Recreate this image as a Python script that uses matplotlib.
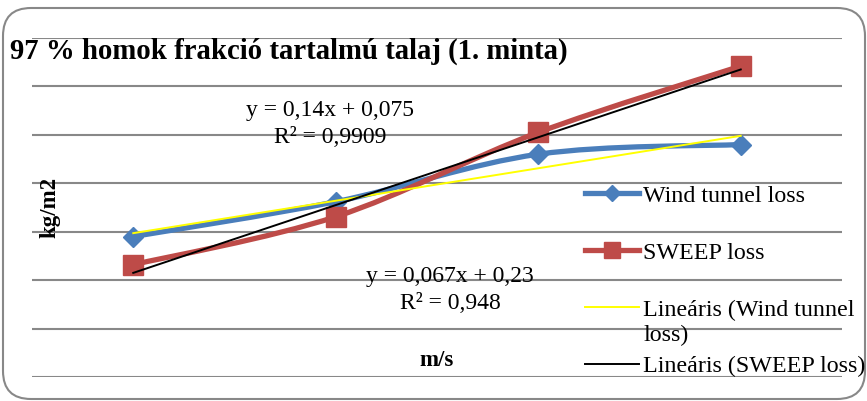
import numpy as np
import matplotlib.pyplot as plt
from matplotlib.path import Path
from matplotlib.patches import PathPatch, FancyBboxPatch
from matplotlib.lines import Line2D

plt.rcParams['font.family'] = ['Liberation Serif', 'DejaVu Serif']

# mérési adatok
categories = [1, 2, 3, 4]
wind_loss = [0.29, 0.362, 0.46, 0.48]
sweep_loss = [0.232, 0.331, 0.505, 0.642]

# lineáris trend: meredekség, tengelymetszet, R²
wind_fit = (0.067, 0.23, 0.948)
sweep_fit = (0.14, 0.075, 0.9909)

title = "97 % homok frakció tartalmú talaj (1. minta)"
labels = ["Wind tunnel loss", "SWEEP loss",
          "Lineáris (Wind tunnel", "Lineáris (SWEEP loss)"]
label_overflow = "loss)"

blue = '#4A7EBB'
red = '#BE4B48'
grid_c = '#888888'


def smooth_path(x, y):
    # simított görbe Bezier-szakaszokkal (Catmull-Rom)
    pts = np.column_stack([x, y]).astype(float)
    n = len(pts)
    verts = [pts[0]]
    codes = [Path.MOVETO]
    for i in range(n - 1):
        p0 = pts[max(i - 1, 0)]
        p1 = pts[i]
        p2 = pts[i + 1]
        p3 = pts[min(i + 2, n - 1)]
        verts += [p1 + (p2 - p0) / 6, p2 - (p3 - p1) / 6, p2]
        codes += [Path.CURVE4] * 3
    return Path(verts, codes)


def fmt(v):
    return ('%g' % v).replace('.', ',')


fig = plt.figure(figsize=(8.67, 4.01), dpi=100)
ax = fig.add_axes([32 / 867, 1 - 377 / 401, 810 / 867, 339 / 401])
ax.set_xlim(0.5, 4.5)
ax.set_ylim(0, 0.7)
ax.set_yticks(np.arange(0, 0.71, 0.1))
ax.set_xticks([])
ax.tick_params(left=False, labelleft=False)
for s in ax.spines.values():
    s.set_visible(False)
ax.grid(axis='y', color=grid_c, lw=1.5)
ax.set_axisbelow(True)

# adatsorok
ax.add_patch(PathPatch(smooth_path(categories, wind_loss), fill=False,
                       ec=blue, lw=3.8, capstyle='round', joinstyle='round'))
ax.plot(categories, wind_loss, ls='none', marker='D', ms=10, color=blue)
ax.add_patch(PathPatch(smooth_path(categories, sweep_loss), fill=False,
                       ec=red, lw=3.8, capstyle='round', joinstyle='round'))
ax.plot(categories, sweep_loss, ls='none', marker='s', ms=15, color=red)

# trendvonalak
xs = np.array([categories[0], categories[-1]], dtype=float)
ax.plot(xs, wind_fit[0] * xs + wind_fit[1], color='#FFFF00', lw=1.4)
ax.plot(xs, sweep_fit[0] * xs + sweep_fit[1], color='black', lw=1.4)

handles = [
    Line2D([], [], color=blue, lw=3.8, marker='D', ms=8),
    Line2D([], [], color=red, lw=3.8, marker='s', ms=12),
    Line2D([], [], color='#FFFF00', lw=1.4),
    Line2D([], [], color='black', lw=1.4),
]
fig.legend(handles, labels, loc='upper left',
           bbox_to_anchor=(585 / 867, 1 - 185 / 401), frameon=False,
           fontsize=17.3, handlelength=2.25, handletextpad=0.15,
           labelspacing=1.46, borderpad=0, borderaxespad=0)
fig.text(644 / 867, 1 - 335 / 401, label_overflow, fontsize=17.3,
         ha='left', va='center')

fig.text(10 / 867, 1 - 51 / 401, title, fontsize=20.7, fontweight='bold',
         ha='left', va='center')
fig.text(50 / 867, 1 - 207 / 401, 'kg/m2', fontsize=16.5, fontweight='bold',
         rotation=90, ha='center', va='center')
fig.text(437 / 867, 1 - 361 / 401, 'm/s', fontsize=16.5, fontweight='bold',
         ha='center', va='center')

fig.text(330 / 867, 1 - 124 / 401,
         'y = %sx + %s\nR² = %s' % (fmt(sweep_fit[0]), fmt(sweep_fit[1]), fmt(sweep_fit[2])),
         fontsize=17, ha='center', va='center', linespacing=1.32)
fig.text(450 / 867, 1 - 290 / 401,
         'y = %sx + %s\nR² = %s' % (fmt(wind_fit[0]), fmt(wind_fit[1]), fmt(wind_fit[2])),
         fontsize=17, ha='center', va='center', linespacing=1.32)

frame = FancyBboxPatch((0.03, 0.02), 8.62, 3.91,
                       boxstyle='round,pad=0,rounding_size=0.28',
                       transform=fig.dpi_scale_trans, fill=False,
                       ec='#888888', lw=1.5)
fig.add_artist(frame)

fig.savefig('out.png', dpi=100)
